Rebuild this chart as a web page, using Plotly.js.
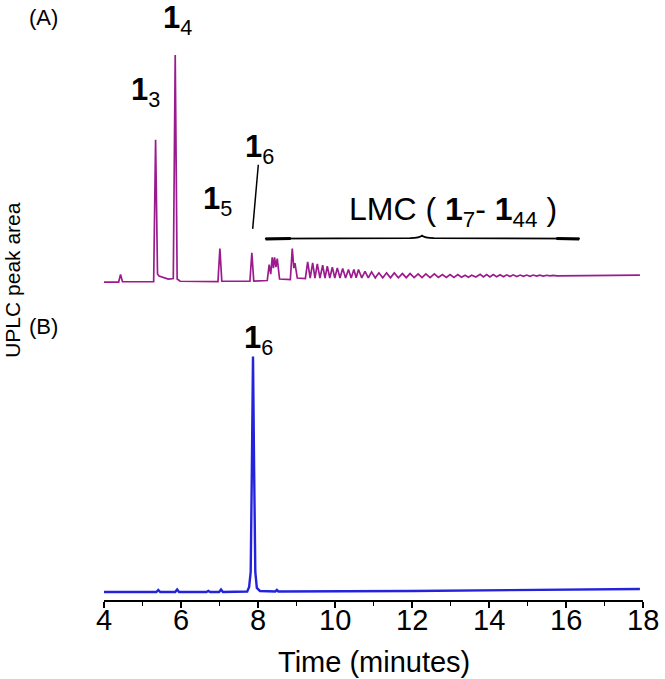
<!DOCTYPE html>
<html>
<head>
<meta charset="utf-8">
<script src="https://cdn.plot.ly/plotly-3.0.1.min.js"></script>
<style>html,body{margin:0;padding:0;background:#fff;}#chart{width:665px;height:679px;}</style>
</head>
<body>
<div id="chart"></div>
<script>
// Trace (A): retention time (minutes) and detector signal (arbitrary units)
const timeA = [4.00,4.38,4.43,4.48,5.29,5.34,5.39,5.43,5.67,5.80,5.85,5.90,5.98,6.96,7.01,7.06,7.79,7.84,7.89,
  8.24,8.29,8.33,8.37,8.40,8.43,8.465,8.50,8.56,8.84,8.89,8.93,8.96,9.02,9.23,
  9.29,9.355,9.42,9.48,9.54,9.61,9.68,9.74,9.80,9.865,9.93,9.995,10.06,10.13,10.20,10.275,10.35,10.42,10.49,10.55,
  10.61,10.695,10.78,10.865,10.95,11.045,11.14,11.24,11.34,11.44,11.54,11.645,11.75,11.85,11.95,12.055,
  12.16,12.26,12.36,12.47,12.58,12.685,12.79,12.89,12.99,13.09,13.19,13.285,13.38,13.465,13.55,13.66,
  13.77,13.855,13.94,14.025,14.11,14.20,14.29,14.375,14.46,14.545,14.63,14.72,14.81,14.895,14.98,15.065,
  15.15,15.235,15.32,15.41,15.50,15.585,15.67,15.76,16.5,17.2,17.92];
const signalA = [0,0,7.5,0.3,0.5,142.5,8,6,3,3.5,227.5,3,0.8,0.5,33.5,0.8,0.8,29.2,1,
  1.5,17.5,8,24.8,14,24.8,15,23.5,3,2.5,33.5,14,19,4,3.5,
  20.2,4,19.2,4,18.2,4,16.8,4,15.8,4,14.8,4,14.2,4,13.5,4,12.5,4,12.5,4.2,
  12.5,4.2,10.8,4.2,10.2,4.2,9.2,4.2,9.2,4.3,9.2,4.3,8.5,4.4,8.5,4.4,
  8.2,4.5,8.2,4.5,8.2,4.6,7.5,4.6,7.5,4.7,7.5,4.8,6.8,4.9,6.8,5.0,
  7.8,5.1,7.5,5.2,7.5,5.3,7.3,5.4,7.2,5.5,7.2,5.6,7.0,5.7,7.0,5.8,
  7.0,5.9,6.8,6.0,6.8,6.1,6.7,6.2,6.5,6.8,7.0];

// Trace (B): isolated fraction
const timeB = [4.00,5.36,5.41,5.46,5.85,5.90,5.95,6.66,6.71,6.76,6.99,7.04,7.09,7.72,7.77,7.81,7.84,7.87,7.90,7.93,7.97,8.05,8.45,8.49,8.53,12.0,17.92];
const signalB = [0,0,2,0,0,2.5,0,0,1,0,0,2.5,0,0.5,5,20,120,235,120,20,4,1,0.5,2,0.5,1,3];

const xTicks = [4,6,8,10,12,14,16,18];
const xTickLabels = ['4','6','8','10','12','14','16','18'];

const FONT = 'Liberation Sans, Arial, Helvetica, sans-serif';

const traces = [
  {x: timeA, y: signalA, xaxis: 'x', yaxis: 'y2', type: 'scatter', mode: 'lines',
   line: {color: '#9b1b8f', width: 1.7}, hoverinfo: 'skip'},
  {x: timeB, y: signalB, xaxis: 'x', yaxis: 'y', type: 'scatter', mode: 'lines',
   line: {color: '#2323dc', width: 2.4}, hoverinfo: 'skip'}
];

const lab = (t, s) => ({text: t, showarrow: false, xanchor: 'center', yanchor: 'middle',
  font: {family: FONT, size: s || 31, color: '#000'}});

// tick labels placed just under the axis line
const tickAnns = xTicks.map((t, i) => ({text: xTickLabels[i], xref: 'x', yref: 'paper', x: t, y: -0.034,
  xanchor: 'center', yanchor: 'middle', showarrow: false, font: {family: FONT, size: 29, color: '#000'}}));

const layout = {
  width: 665, height: 679,
  margin: {l: 104, r: 22, t: 10, b: 79},
  paper_bgcolor: '#fff', plot_bgcolor: '#fff',
  showlegend: false,
  font: {family: FONT, color: '#000'},
  xaxis: {
    range: [4, 18], tickvals: xTicks, showticklabels: false,
    showline: true, linecolor: '#000', linewidth: 1.5, mirror: false,
    ticks: 'outside', ticklen: 6, tickwidth: 1.5, tickcolor: '#000',
    minor: {dtick: 1, tick0: 4, ticks: 'outside', ticklen: 4, tickwidth: 1.5, tickcolor: '#000', showgrid: false},
    showgrid: false, zeroline: false,
    anchor: 'y'
  },
  yaxis: {domain: [0, 0.48], range: [-8, 274.7], visible: false, fixedrange: true},
  yaxis2: {domain: [0.5, 1], range: [-23, 272.5], visible: false, fixedrange: true, anchor: 'x'},
  annotations: tickAnns.concat([
    {text: 'Time (minutes)', xref: 'paper', yref: 'paper', x: 0.5, y: -0.105, xanchor: 'center', yanchor: 'middle',
     showarrow: false, font: {family: FONT, size: 29, color: '#000'}},
    Object.assign(lab('<b>1</b><sub>3</sub>'), {xref: 'x', yref: 'y2', x: 5.09, y: 190.5}),
    Object.assign(lab('<b>1</b><sub>4</sub>'), {xref: 'x', yref: 'y2', x: 5.92, y: 262.5}),
    Object.assign(lab('<b>1</b><sub>5</sub>'), {xref: 'x', yref: 'y2', x: 6.935, y: 81.5}),
    Object.assign(lab('<b>1</b><sub>6</sub>'), {xref: 'x', yref: 'y2', x: 8.026, y: 133.5}),
    Object.assign(lab('LMC ( <b>1</b><sub>7</sub>- <b>1</b><sub>44</sub> )', 32), {xref: 'x', yref: 'y2', x: 13.065, y: 70.5}),
    Object.assign(lab('<b>1</b><sub>6</sub>'), {xref: 'x', yref: 'y', x: 8.0, y: 252}),
    {text: '(A)', xref: 'paper', yref: 'paper', x: -0.113, y: 0.987, xanchor: 'center', yanchor: 'middle',
     showarrow: false, font: {family: FONT, size: 22, color: '#000'}},
    {text: '(B)', xref: 'paper', yref: 'paper', x: -0.113, y: 0.4635, xanchor: 'center', yanchor: 'middle',
     showarrow: false, font: {family: FONT, size: 22, color: '#000'}},
    {text: 'UPLC peak area', xref: 'paper', yref: 'paper', x: -0.170, y: 0.5433, xanchor: 'center', yanchor: 'middle',
     showarrow: false, textangle: -90, font: {family: FONT, size: 21, color: '#000'}}
  ]),
  shapes: [
    {type: 'line', xref: 'x', yref: 'y2', x0: 8.008, y0: 117.5, x1: 7.862, y1: 53.2,
     line: {color: '#000', width: 1.5}},
    {type: 'path', xref: 'x', yref: 'y2',
     path: 'M 8.18,43.5 L 11.95,44 Q 12.21,44.3 12.26,46.5 Q 12.31,44.3 12.57,44 L 16.36,43.5',
     line: {color: '#000', width: 1.6}},
    {type: 'line', xref: 'x', yref: 'y2', x0: 8.20, y0: 43.2, x1: 8.85, y1: 43.6,
     line: {color: '#000', width: 3}},
    {type: 'line', xref: 'x', yref: 'y2', x0: 15.75, y0: 43.6, x1: 16.34, y1: 43.2,
     line: {color: '#000', width: 3}}
  ]
};

Plotly.newPlot('chart', traces, layout, {displayModeBar: false, staticPlot: true});
</script>
</body>
</html>
